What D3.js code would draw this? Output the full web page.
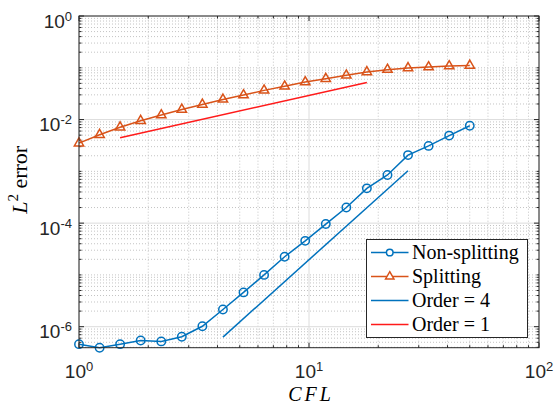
<!DOCTYPE html>
<html>
<head>
<meta charset="utf-8">
<script src="https://cdn.jsdelivr.net/npm/d3@7"></script>
<style>
  body { margin: 0; background: #fff; }
  .serif { font-family: 'Liberation Serif', 'Times New Roman', serif; }
  .sans { font-family: 'Liberation Sans', Arial, sans-serif; }
</style>
</head>
<body>
<svg id="chart"></svg>
<script>
const width = 555, height = 405;
const margin = {top: 16, right: 16, bottom: 57.3, left: 79};

// CFL values (log spaced from 1 to 50)
const cfl = [1, 1.229, 1.509, 1.854, 2.279, 2.799, 3.439, 4.225, 5.191, 6.378,
             7.836, 9.628, 11.83, 14.53, 17.85, 21.94, 26.95, 33.11, 40.69, 50];
const nonSplitting = [4.6e-7, 3.93e-7, 4.6e-7, 5.4e-7, 5.2e-7, 6.4e-7, 1.02e-6, 2.15e-6, 4.6e-6, 1.0e-5,
                      2.24e-5, 4.55e-5, 9.6e-5, 2.0e-4, 4.7e-4, 8.5e-4, 2.06e-3, 3.1e-3, 4.9e-3, 7.6e-3];
const splitting = [3.5e-3, 5.1e-3, 7.1e-3, 9.5e-3, 1.22e-2, 1.57e-2, 1.96e-2, 2.45e-2, 2.97e-2, 3.66e-2,
                   4.38e-2, 5.3e-2, 6.15e-2, 7.15e-2, 8.3e-2, 9.2e-2, 9.9e-2, 0.103, 0.108, 0.111];
// reference slopes
const order4X = [4.225, 26.95], order4Y = [6.3e-7, 1.03e-3];
const order1X = [1.509, 17.85], order1Y = [4.45e-3, 5.2e-2];

const xTicks = [1, 10, 100];
const yTicks = [1e-6, 1e-4, 1e-2, 1];
const xTickExp = ["0", "1", "2"];
const yTickExp = ["-6", "-4", "-2", "0"];

const blue = "#0072BD", orange = "#D95319", red = "#ff1a1a", axisColor = "#262626";

const svg = d3.select("#chart")
    .attr("width", width)
    .attr("height", height)
    .style("background", "#ffffff");

const x = d3.scaleLog()
    .domain([1, 100])
    .range([margin.left, width - margin.right]);

const y = d3.scaleLog()
    .domain([3.93e-7, 1])
    .range([height - margin.bottom, margin.top]);

const x0 = margin.left, x1 = width - margin.right;
const y0 = height - margin.bottom, y1 = margin.top;

// minor tick positions
const xMinor = x.ticks().filter(v => !xTicks.includes(v));
const yMinor = y.ticks().filter(v => !yTicks.includes(v) && v >= y.domain()[0]);

// grid
const grid = svg.append("g");
grid.selectAll(".xminor").data(xMinor).join("line")
    .attr("x1", d => x(d)).attr("x2", d => x(d))
    .attr("y1", y0).attr("y2", y1)
    .attr("stroke", "#c4c4c4").attr("stroke-dasharray", "1,2");
grid.selectAll(".yminor").data(yMinor).join("line")
    .attr("y1", d => y(d)).attr("y2", d => y(d))
    .attr("x1", x0).attr("x2", x1)
    .attr("stroke", "#c4c4c4").attr("stroke-dasharray", "1,2");
grid.selectAll(".xmajor").data(xTicks).join("line")
    .attr("x1", d => x(d)).attr("x2", d => x(d))
    .attr("y1", y0).attr("y2", y1)
    .attr("stroke", "#dcdcdc");
grid.selectAll(".ymajor").data(yTicks).join("line")
    .attr("y1", d => y(d)).attr("y2", d => y(d))
    .attr("x1", x0).attr("x2", x1)
    .attr("stroke", "#dcdcdc");

// ticks on all four sides, pointing inward
const ticks = svg.append("g").attr("stroke", axisColor).attr("stroke-width", 1);
function vTicks(vals, len) {
  vals.forEach(v => {
    ticks.append("line").attr("x1", x(v)).attr("x2", x(v)).attr("y1", y0).attr("y2", y0 - len);
    ticks.append("line").attr("x1", x(v)).attr("x2", x(v)).attr("y1", y1).attr("y2", y1 + len);
  });
}
function hTicks(vals, len) {
  vals.forEach(v => {
    ticks.append("line").attr("y1", y(v)).attr("y2", y(v)).attr("x1", x0).attr("x2", x0 + len);
    ticks.append("line").attr("y1", y(v)).attr("y2", y(v)).attr("x1", x1).attr("x2", x1 - len);
  });
}
vTicks(xTicks, 5); vTicks(xMinor, 2.5);
hTicks(yTicks, 5); hTicks(yMinor, 2.5);

// tick labels
const xl = svg.append("g").attr("class", "sans")
    .attr("fill", axisColor).attr("font-size", 19);
xTicks.forEach((v, i) => {
  const t = xl.append("text").attr("x", x(v)).attr("y", 378).attr("text-anchor", "middle");
  t.append("tspan").text("10");
  t.append("tspan").attr("dy", -7).attr("font-size", 13).text(xTickExp[i]);
});
yTicks.forEach((v, i) => {
  const t = xl.append("text").attr("x", 72).attr("y", y(v) + 11.5).attr("text-anchor", "end");
  t.append("tspan").text("10");
  t.append("tspan").attr("dy", -7).attr("font-size", 13).text(yTickExp[i]);
});

// axis titles
svg.append("text")
    .attr("class", "serif")
    .attr("x", (x0 + x1) / 2 + 2).attr("y", 400.5)
    .attr("text-anchor", "middle")
    .attr("font-style", "italic")
    .attr("font-size", 20)
    .attr("fill", "#000")
    .attr("letter-spacing", 3)
    .text("CFL");

const yt = svg.append("text")
    .attr("class", "serif")
    .attr("transform", `translate(27,${(y0 + y1) / 2 - 2}) rotate(-90)`)
    .attr("text-anchor", "middle")
    .attr("font-size", 22)
    .attr("fill", "#000");
yt.append("tspan").attr("font-style", "italic").text("L");
yt.append("tspan").attr("dy", -9).attr("font-size", 15).text("2");
yt.append("tspan").attr("dy", 9).text(" error");

// data lines
const line = d3.line().x(d => x(d[0])).y(d => y(d[1]));
const plot = svg.append("g");

plot.append("path")
    .datum(d3.zip(order4X, order4Y))
    .attr("fill", "none").attr("stroke", blue).attr("stroke-width", 1.5)
    .attr("d", line);
plot.append("path")
    .datum(d3.zip(order1X, order1Y))
    .attr("fill", "none").attr("stroke", red).attr("stroke-width", 1.5)
    .attr("d", line);

plot.append("path")
    .datum(d3.zip(cfl, nonSplitting))
    .attr("fill", "none").attr("stroke", blue).attr("stroke-width", 1.5)
    .attr("d", line);
plot.selectAll(".circ").data(d3.zip(cfl, nonSplitting)).join("circle")
    .attr("cx", d => x(d[0])).attr("cy", d => y(d[1])).attr("r", 4.2)
    .attr("fill", "none").attr("stroke", blue).attr("stroke-width", 1.5);

plot.append("path")
    .datum(d3.zip(cfl, splitting))
    .attr("fill", "none").attr("stroke", orange).attr("stroke-width", 1.5)
    .attr("d", line);
const tri = d3.symbol().type(d3.symbolTriangle).size(38);
plot.selectAll(".tri").data(d3.zip(cfl, splitting)).join("path")
    .attr("transform", d => `translate(${x(d[0])},${y(d[1])})`)
    .attr("d", tri)
    .attr("fill", "none").attr("stroke", orange).attr("stroke-width", 1.5);

// box
svg.append("rect")
    .attr("x", x0).attr("y", y1)
    .attr("width", x1 - x0).attr("height", y0 - y1)
    .attr("fill", "none").attr("stroke", axisColor).attr("stroke-width", 1);

// legend
const legendNames = ["Non-splitting", "Splitting", "Order = 4", "Order = 1"];
const legendColors = [blue, orange, blue, red];
const legendMarks = ["circle", "triangle", null, null];

const legend = svg.append("g").attr("transform", "translate(366.5,239.5)");
legend.append("rect")
    .attr("width", 161).attr("height", 98)
    .attr("fill", "#fff").attr("stroke", axisColor).attr("stroke-width", 1);
legendNames.forEach((name, i) => {
  const cy = 13 + i * 24;
  legend.append("line")
      .attr("x1", 4.5).attr("x2", 42).attr("y1", cy).attr("y2", cy)
      .attr("stroke", legendColors[i]).attr("stroke-width", 1.5);
  if (legendMarks[i] === "circle") {
    legend.append("circle").attr("cx", 23.25).attr("cy", cy).attr("r", 3.3)
        .attr("fill", "#fff").attr("stroke", legendColors[i]).attr("stroke-width", 1.5);
  } else if (legendMarks[i] === "triangle") {
    legend.append("path")
        .attr("transform", `translate(23.25,${cy})`)
        .attr("d", d3.symbol().type(d3.symbolTriangle).size(30))
        .attr("fill", "#fff").attr("stroke", legendColors[i]).attr("stroke-width", 1.5);
  }
  legend.append("text")
      .attr("x", 45.5).attr("y", cy + 6.5)
      .style("font-family", "'Liberation Serif', 'Times New Roman', serif")
      .style("font-size", "20px")
      .attr("fill", "#000")
      .text(name);
});
</script>
</body>
</html>
